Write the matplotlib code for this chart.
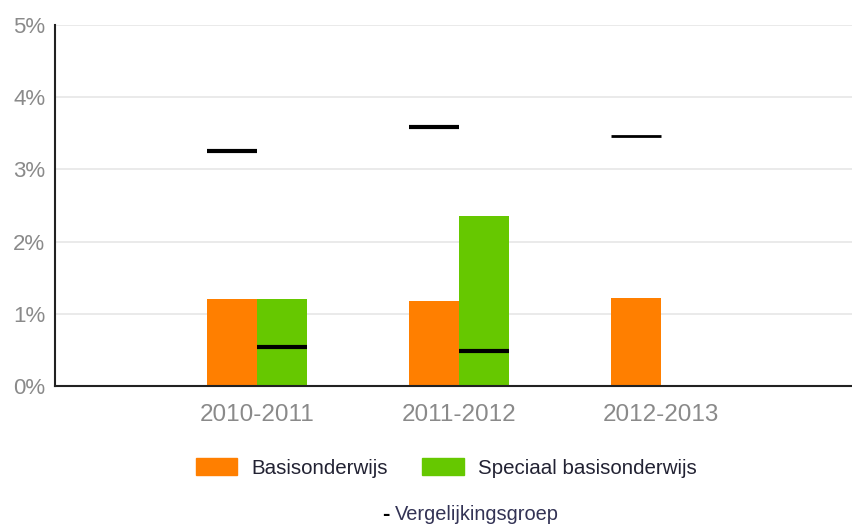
import matplotlib.pyplot as plt
import matplotlib.patches as mpatches
import numpy as np

years = ['2010-2011', '2011-2012', '2012-2013']
basis = [1.2, 1.18, 1.22]
speciaal = [1.2, 2.36, 0.0]
verg_basis = [3.25, 3.59, 3.46]
verg_speciaal = [0.54, 0.48, None]

plt.rcParams['font.family'] = ['Liberation Sans', 'DejaVu Sans']

fig = plt.figure(figsize=(8.53, 5.26), dpi=100)
ax = fig.add_axes([0.0645, 0.266, 0.9355, 0.6865])

x = np.arange(len(years))
w = 0.248
ax.bar(x - w / 2, basis, w, color='#ff7f00', zorder=2)
ax.bar(x + w / 2, speciaal, w, color='#66c800', zorder=2)

# vergelijkingsgroep markers
for i, v in enumerate(verg_basis):
    lw = 2.0 if i == 2 else 3.0
    ax.hlines(v, x[i] - w, x[i], color='black', lw=lw, zorder=3)
for i, v in enumerate(verg_speciaal):
    if v is not None:
        ax.hlines(v, x[i], x[i] + w, color='black', lw=3.0, zorder=3)

ax.set_xlim(-1, 2.95)
ax.set_ylim(0, 5)
ax.set_yticks(range(6))
ax.set_yticklabels([f'{t}%' for t in range(6)])
ax.set_xticks(x)
ax.set_xticklabels(years)
ax.tick_params(axis='both', length=0, labelsize=16, colors='#8a8a8a')
ax.tick_params(axis='x', pad=13, labelsize=17.5)
ax.tick_params(axis='y', pad=7)
ax.grid(axis='y', color='#e6e6e6', lw=1.2, zorder=0)
ax.set_axisbelow(True)
for s in ['top', 'right']:
    ax.spines[s].set_visible(False)
for s in ['left', 'bottom']:
    ax.spines[s].set_color('#222222')
    ax.spines[s].set_linewidth(1.5)

handles = [mpatches.Patch(color='#ff7f00', label='Basisonderwijs'),
           mpatches.Patch(color='#66c800', label='Speciaal basisonderwijs')]
fig.legend(handles=handles, loc='center', bbox_to_anchor=(0.523, 0.11), ncol=2,
           frameon=False, fontsize=14.8, handlelength=2.0, handleheight=0.9,
           handletextpad=0.7, columnspacing=1.7, labelcolor='#222233')
fig.text(0.452, 0.012, '-', fontsize=16, fontweight='bold', color='black', ha='center')
fig.text(0.463, 0.012, 'Vergelijkingsgroep', fontsize=14.4, color='#333355', ha='left')

fig.savefig('out.png', dpi=100)
